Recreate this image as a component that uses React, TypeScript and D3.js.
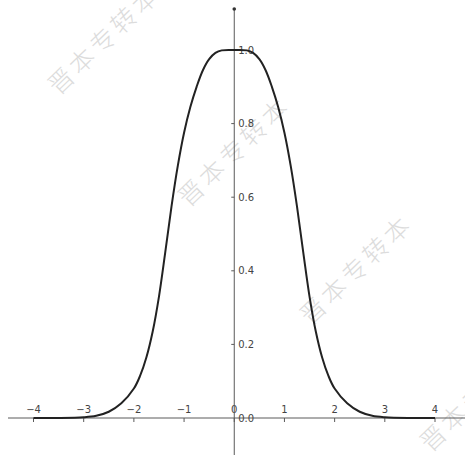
import React from "react";
import * as d3 from "d3";

// Sampled curve values (x, f(x))
const xs = [-4, -3.5, -3, -2.75, -2.5, -2.25, -2, -1.875, -1.75, -1.625, -1.5, -1.375, -1.25, -1.125, -1, -0.875, -0.75, -0.625, -0.5, -0.375, -0.25, 0, 0.25, 0.375, 0.5, 0.625, 0.75, 0.875, 1, 1.125, 1.25, 1.375, 1.5, 1.625, 1.75, 1.875, 2, 2.25, 2.5, 2.75, 3, 3.5, 4];
const ys = [0, 0, 0.002, 0.006, 0.017, 0.04, 0.08, 0.115, 0.165, 0.235, 0.33, 0.45, 0.575, 0.685, 0.775, 0.845, 0.9, 0.945, 0.975, 0.992, 0.999, 1.0, 0.999, 0.992, 0.975, 0.945, 0.9, 0.845, 0.775, 0.685, 0.575, 0.45, 0.33, 0.235, 0.165, 0.115, 0.08, 0.04, 0.017, 0.006, 0.002, 0, 0];

const xTicks = [-4, -3, -2, -1, 0, 1, 2, 3, 4];
const yTicks = [0.2, 0.4, 0.6, 0.8, 1.0];

const watermarkText = "晋本专转本";
const watermarks = [
  { cx: 103, cy: 38 },
  { cx: 233, cy: 150 },
  { cx: 355, cy: 268 },
  { cx: 475, cy: 395 },
];

const W = 465;
const H = 455;

export default function App() {
  const x = d3.scaleLinear().domain([-4, 4]).range([33.5, 435]);
  const y = d3.scaleLinear().domain([0, 1]).range([418, 50]);
  const pts: [number, number][] = xs.map((v, i) => [v, ys[i]]);
  const line = d3
    .line<[number, number]>()
    .x((d) => x(d[0]))
    .y((d) => y(d[1]))
    .curve(d3.curveCatmullRom.alpha(0.5));

  const axisColor = "#5a5a5a";
  const labelColor = "#444";
  const font = "'DejaVu Sans', sans-serif";

  return (
    <svg
      width={W}
      height={H}
      style={{ position: "absolute", left: 0, top: 0, background: "#fff" }}
    >
      {watermarks.map((w, i) => (
        <text
          key={i}
          x={w.cx}
          y={w.cy}
          transform={`rotate(-44 ${w.cx} ${w.cy})`}
          textAnchor="middle"
          dominantBaseline="central"
          fontFamily="'Noto Sans CJK SC', sans-serif"
          fontWeight={300}
          fontSize={25}
          fill="#dcdcdc"
          letterSpacing={4}
        >
          {watermarkText}
        </text>
      ))}

      {/* x axis */}
      <line x1={8} x2={W} y1={y(0)} y2={y(0)} stroke={axisColor} strokeWidth={1} />
      {xTicks.map((t) => (
        <g key={t}>
          <line x1={x(t)} x2={x(t)} y1={y(0)} y2={y(0) + 4} stroke={axisColor} strokeWidth={1} />
          <text
            x={x(t)}
            y={y(0) - 5}
            textAnchor="middle"
            fontFamily={font}
            fontSize={10}
            fill={labelColor}
          >
            {t < 0 ? `\u2212${Math.abs(t)}` : `${t}`}
          </text>
        </g>
      ))}

      {/* y axis */}
      <line x1={x(0)} x2={x(0)} y1={9} y2={H} stroke={axisColor} strokeWidth={1} />
      <circle cx={x(0)} cy={9} r={1.8} fill="#333" />
      {yTicks.map((t) => (
        <g key={t}>
          <line x1={x(0) - 3} x2={x(0)} y1={y(t)} y2={y(t)} stroke={axisColor} strokeWidth={1} />
          <text
            x={x(0) + 4}
            y={y(t)}
            dominantBaseline="central"
            fontFamily={font}
            fontSize={10}
            fill={labelColor}
          >
            {t.toFixed(1)}
          </text>
        </g>
      ))}
      <text
        x={x(0) + 4}
        y={y(0)}
        dominantBaseline="central"
        fontFamily={font}
        fontSize={10}
        fill={labelColor}
      >
        0.0
      </text>

      {/* curve */}
      <path d={line(pts) ?? ""} fill="none" stroke="#222" strokeWidth={2} strokeLinejoin="round" />
    </svg>
  );
}
